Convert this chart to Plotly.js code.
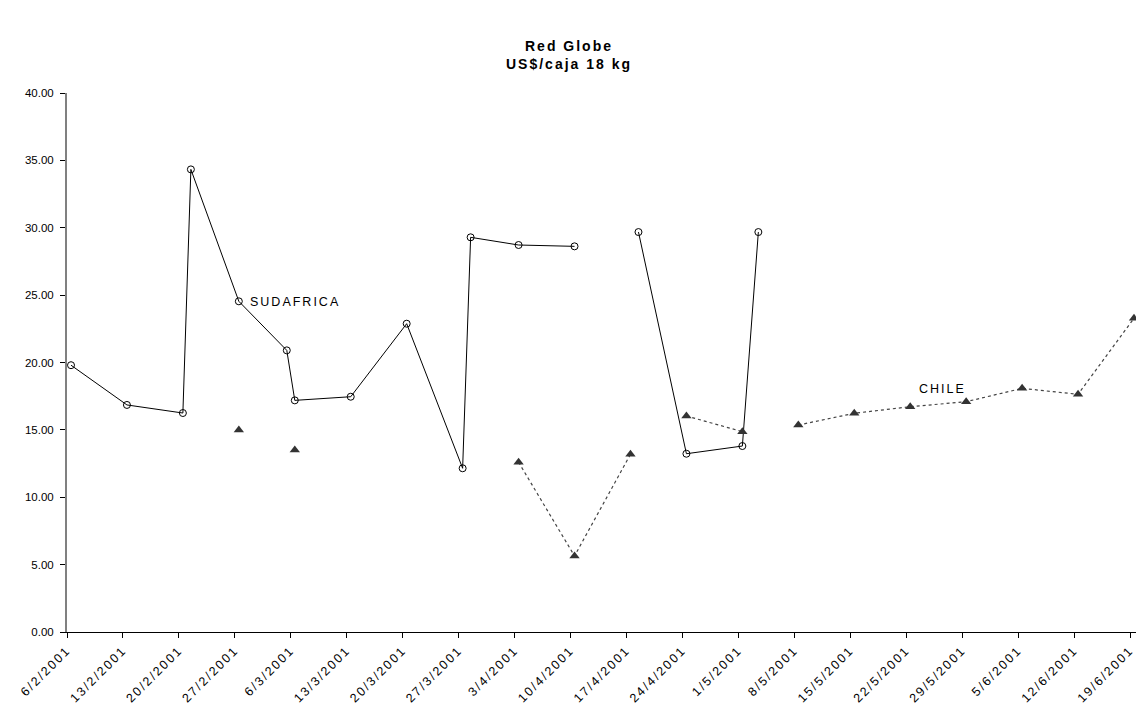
<!DOCTYPE html>
<html>
<head>
<meta charset="utf-8">
<script src="https://cdn.plot.ly/plotly-3.0.1.min.js"></script>
<style>
html,body{margin:0;padding:0;background:#fff;}
#chart{width:1138px;height:707px;}
#chart .gtitle{letter-spacing:2px;}
#chart .annotation-text{letter-spacing:2px;}
#chart .xtick text{letter-spacing:2px;}
</style>
</head>
<body>
<div id="chart"></div>
<script>
// SUDAFRICA series (null = break in line)
const sudDates = ['2001-02-06','2001-02-13','2001-02-20','2001-02-21','2001-02-27','2001-03-05','2001-03-06','2001-03-13','2001-03-20','2001-03-27','2001-03-28','2001-04-03','2001-04-10','2001-04-14','2001-04-18','2001-04-24','2001-05-01','2001-05-03'];
const sudValues = [19.8,16.85,16.25,34.33,24.54,20.9,17.19,17.46,22.88,12.15,29.29,28.72,28.62,null,29.68,13.23,13.8,29.68];

// CHILE series
const chiDates = ['2001-02-27','2001-03-01','2001-03-06','2001-03-20','2001-04-03','2001-04-10','2001-04-17','2001-04-20','2001-04-24','2001-05-01','2001-05-04','2001-05-08','2001-05-15','2001-05-22','2001-05-29','2001-06-05','2001-06-12','2001-06-19'];
const chiValues = [15.0,null,13.5,null,12.6,5.64,13.19,null,16.03,14.87,null,15.36,16.23,16.72,17.09,18.08,17.64,23.28];

const tickDates = ['2001-02-06','2001-02-13','2001-02-20','2001-02-27','2001-03-06','2001-03-13','2001-03-20','2001-03-27','2001-04-03','2001-04-10','2001-04-17','2001-04-24','2001-05-01','2001-05-08','2001-05-15','2001-05-22','2001-05-29','2001-06-05','2001-06-12','2001-06-19'];
const tickLabels = ['6/2/2001','13/2/2001','20/2/2001','27/2/2001','6/3/2001','13/3/2001','20/3/2001','27/3/2001','3/4/2001','10/4/2001','17/4/2001','24/4/2001','1/5/2001','8/5/2001','15/5/2001','22/5/2001','29/5/2001','5/6/2001','12/6/2001','19/6/2001'];

const FONT = 'Arial, "Liberation Sans", sans-serif';

const traces = [
  {
    name: 'SUDAFRICA', type: 'scatter', mode: 'lines+markers',
    x: sudDates, y: sudValues, xperiod: 86400000, xperiodalignment: 'middle',
    connectgaps: false,
    line: {color: '#000', width: 1},
    marker: {symbol: 'circle-open', size: 7, color: '#000', line: {width: 1, color: '#000'}}
  },
  {
    name: 'CHILE', type: 'scatter', mode: 'lines+markers',
    x: chiDates, y: chiValues, xperiod: 86400000, xperiodalignment: 'middle',
    connectgaps: false,
    line: {color: '#444', width: 1.2, dash: 'dot'},
    marker: {symbol: 'triangle-up', size: 9, color: '#333'}
  }
];

const layout = {
  width: 1138, height: 707,
  paper_bgcolor: '#fff', plot_bgcolor: '#fff',
  margin: {l: 66.5, r: 2, t: 93, b: 75},
  showlegend: false,
  font: {family: FONT, color: '#000'},
  title: {
    text: '<b>Red Globe</b><br><b>US$/caja 18 kg</b>',
    font: {family: FONT, size: 14, color: '#000'},
    x: 0.5, xanchor: 'center', xref: 'container',
    y: 1 - 51/707, yanchor: 'top', yref: 'container'
  },
  xaxis: {
    type: 'date',
    range: ['2001-02-06', '2001-06-19 18:00'],
    tickmode: 'array', tickvals: tickDates, ticktext: tickLabels,
    tickangle: -45,
    tickfont: {family: FONT, size: 12.5, color: '#000'},
    ticks: 'outside', ticklen: 5, tickcolor: '#000',
    showline: true, linecolor: '#000', linewidth: 1,
    showgrid: false, zeroline: false, fixedrange: true
  },
  yaxis: {
    range: [0, 40], dtick: 5, tick0: 0, tickformat: '.2f',
    tickfont: {family: FONT, size: 11.5, color: '#000'},
    ticks: 'outside', ticklen: 5, tickcolor: '#000',
    ticklabelstandoff: 4,
    showline: true, linecolor: '#808080', linewidth: 2,
    showgrid: false, zeroline: false, fixedrange: true
  },
  annotations: [
    {text: 'SUDAFRICA', x: '2001-02-28 19:00', y: 24.5, xref: 'x', yref: 'y',
     xanchor: 'left', yanchor: 'middle', showarrow: false, xshift: 8,
     font: {family: FONT, size: 12.5, color: '#000'}},
    {text: 'CHILE', x: '2001-05-26 12:00', y: 18.0, xref: 'x', yref: 'y',
     xanchor: 'center', yanchor: 'middle', showarrow: false,
     font: {family: FONT, size: 12.5, color: '#000'}}
  ]
};

Plotly.newPlot('chart', traces, layout, {staticPlot: true, displayModeBar: false});
</script>
</body>
</html>
